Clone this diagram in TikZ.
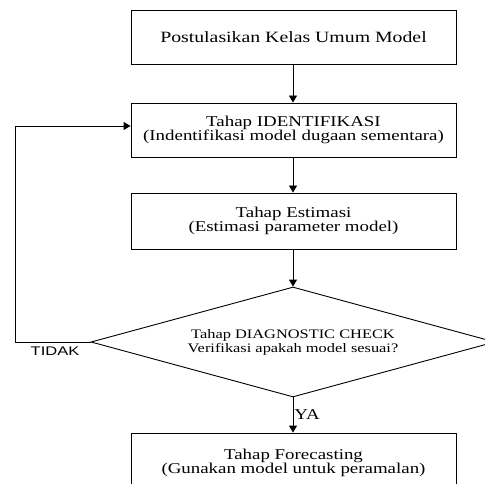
\documentclass[tikz,border=0pt]{standalone}
\usepackage{fontspec}
\setmainfont{Liberation Serif}[FakeStretch=1.26]
\newfontfamily\labelFont{Liberation Sans}[FakeStretch=1.32]
\usetikzlibrary{shapes.geometric, arrows.meta}
\tikzstyle{flowChart} = [x = 1pt, y = -1pt]
\tikzstyle{stepBox} = [draw, line width=0.9pt, minimum width=325pt, inner sep=0pt, align=center, font=\fontsize{15}{14.5}\selectfont]
\tikzstyle{checkDiamond} = [draw, diamond, aspect=3.6, line width=0.9pt, minimum width=404pt, minimum height=110pt, inner sep=0pt, align=center, font=\fontsize{13}{14}\selectfont]
\tikzstyle{flowArrow} = [line width=0.9pt, -{Triangle[length=7pt, width=8pt]}]
\tikzstyle{answerText} = [inner sep=0pt]
\begin{document}
\begin{tikzpicture}[flowChart]
  \clip (0,0) rectangle (485,484);
  \node [stepBox, minimum height=54pt, font=\fontsize{15.7}{15}\selectfont] (postulate) at (293.5,37) {Postulasikan Kelas Umum Model};
  \node [stepBox, minimum height=54pt] (ident) at (293.5,130) {Tahap IDENTIFIKASI\\(Indentifikasi model dugaan sementara)};
  \node [stepBox, minimum height=56pt] (estim) at (293.5,221) {Tahap Estimasi\\(Estimasi parameter model)};
  \node [checkDiamond] (check) at (293,342) {Tahap DIAGNOSTIC CHECK\\Verifikasi apakah model sesuai?};
  \node [stepBox, minimum height=60pt] (forecast) at (293.5,463) {Tahap Forecasting\\(Gunakan model untuk peramalan)};

  \draw [flowArrow] (postulate.south -| check.north) -- (ident.north -| check.north);
  \draw [flowArrow] (ident.south -| check.north) -- (estim.north -| check.north);
  \draw [flowArrow] (estim.south -| check.north) -- (check.north);
  \draw [flowArrow] (check.south) -- (forecast.north -| check.south)
    node [answerText, pos=0.5, right=1pt, font=\fontsize{15}{15}\selectfont] (yes) {YA};

  % jalur kembali ke identifikasi
  \coordinate (loopTop) at (15,126);
  \draw [flowArrow] (check.west) -| (loopTop) -- (loopTop -| ident.west);
  \node [answerText, font=\labelFont\fontsize{12.5}{12.5}\selectfont] (no) at (55,351.5) {TIDAK};
\end{tikzpicture}
\end{document}
